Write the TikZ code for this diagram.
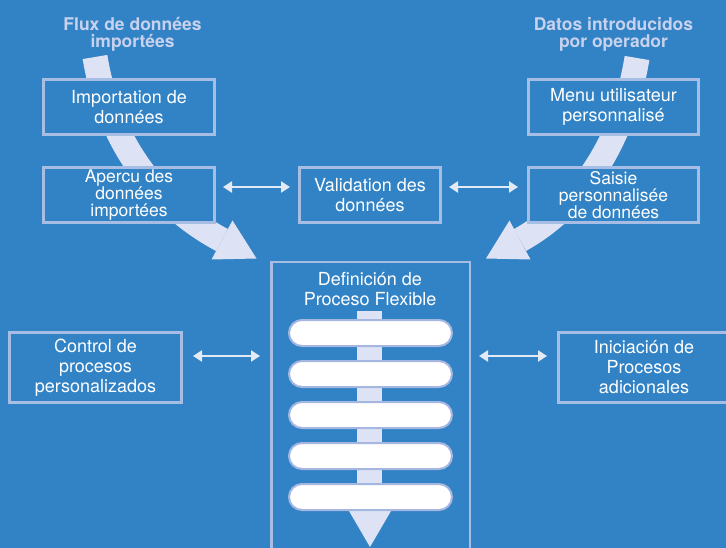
\documentclass[tikz,border=0pt]{standalone}
\usepackage{fontspec}
\setmainfont{TeX Gyre Heros}
\usetikzlibrary{arrows.meta,calc}
\definecolor{bg}{RGB}{50,131,197}
\definecolor{boxline}{RGB}{168,189,228}
\definecolor{bandcol}{RGB}{221,227,244}
\definecolor{titlecol}{RGB}{200,210,238}
\definecolor{arrcol}{RGB}{228,233,246}
\definecolor{pillline}{RGB}{165,182,225}
\tikzset{
  databox/.style={draw=boxline, line width=3pt, fill=bg, text=white, align=center, inner sep=0pt,
    font=\fontsize{18}{19.5}\selectfont},
  tightbox/.style={databox, font=\fontsize{17.5}{17.2}\selectfont},
  titletext/.style={text=titlecol, align=center, font=\bfseries\fontsize{17.5}{17}\selectfont},
  pill/.style={draw=pillline, line width=2pt, fill=white, rounded corners=13pt, minimum width=163pt, minimum height=26pt},
  dbl/.style={draw=arrcol, line width=2.2pt, {Triangle[length=9pt,width=11pt]}-{Triangle[length=9pt,width=11pt]}},
  flowband/.style={draw=bandcol, line width=25pt},
}
\begin{document}
\begin{tikzpicture}[x=1pt,y=-1pt]
\useasboundingbox (0,0) rectangle (726,548);
\clip (0,0) rectangle (726,548);
\fill[bg] (0,0) rectangle (726,548);

% titles
\node[titletext] (tl) at (132.5,34) {Flux de données\\importées};
\node[titletext] (tr) at (613.5,34) {Datos introducidos\\por operador};

% flow bands
\coordinate (ls) at (95,57);
\coordinate (le) at (222,240);
\coordinate (lt) at (256.5,258.5);
\coordinate (la) at (232.5,220.5);
\coordinate (lb) at (211.5,259.5);
\draw[flowband] (ls) .. controls (110,150) and (165,210) .. (le);
\fill[bandcol] (la) -- (lt) -- (lb) -- cycle;

\coordinate (rs) at (637,58);
\coordinate (re) at (520,240);
\coordinate (rt) at (486,258.5);
\coordinate (ra) at (509.5,220.5);
\coordinate (rb) at (530.5,259.5);
\draw[flowband] (rs) .. controls (622,150) and (574,210) .. (re);
\fill[bandcol] (ra) -- (rt) -- (rb) -- cycle;

% boxes
\node[databox, minimum width=171pt, minimum height=55pt] (imp) at (129,107) {Importation de\\données};
\node[tightbox, minimum width=171pt, minimum height=55pt] (ape) at (129,195) {Apercu des\\données\\importées};
\node[databox, minimum width=141pt, minimum height=55pt] (val) at (370,195) {Validation des\\données};
\node[databox, minimum width=170pt, minimum height=55pt] (menu) at (613.5,107) {Menu utilisateur\\personnalisé};
\node[tightbox, minimum width=170pt, minimum height=55pt] (sai) at (613.5,195) {Saisie\\personnalisée\\de données};
\node[databox, font=\fontsize{18}{20}\selectfont, minimum width=172pt, minimum height=70pt] (ctrl) at (95.5,367.5) {Control de\\procesos\\personalizados};
\node[databox, font=\fontsize{18}{20}\selectfont, minimum width=171pt, minimum height=70pt] (ini) at (644,367.5) {Iniciación de\\Procesos\\adicionales};

% container
\node[draw=boxline, line width=2.5pt, minimum width=198.5pt, minimum height=337.75pt, inner sep=0pt] (cont) at (370.5,431) {};
\node[text=white, align=center, font=\fontsize{18}{20}\selectfont] (ctitle) at (370,289) {Definición de\\Proceso Flexible};

% inner flow bar
\fill[bandcol] (357,311) rectangle (382,512);
\fill[bandcol] (349,511) -- (391,511) -- (370,547) -- cycle;
\foreach \i/\yy in {1/333,2/374,3/415,4/456,5/497}{
  \node[pill] (p\i) at (370.5,\yy) {};
}

% double arrows
\draw[dbl, shorten <=7pt, shorten >=8pt] ([yshift=8pt]ape.east) -- ([yshift=8pt]val.west);
\draw[dbl, shorten <=7pt, shorten >=9pt] ([yshift=8pt]val.east) -- ([yshift=8pt]sai.west);
\draw[dbl, shorten <=10pt, shorten >=10pt] ([yshift=11.5pt]ctrl.east) -- ([yshift=11.5pt]ctrl.east -| cont.west);
\draw[dbl, shorten <=8pt, shorten >=10pt] ([yshift=11.5pt]ini.west -| cont.east) -- ([yshift=11.5pt]ini.west);
\end{tikzpicture}
\end{document}
